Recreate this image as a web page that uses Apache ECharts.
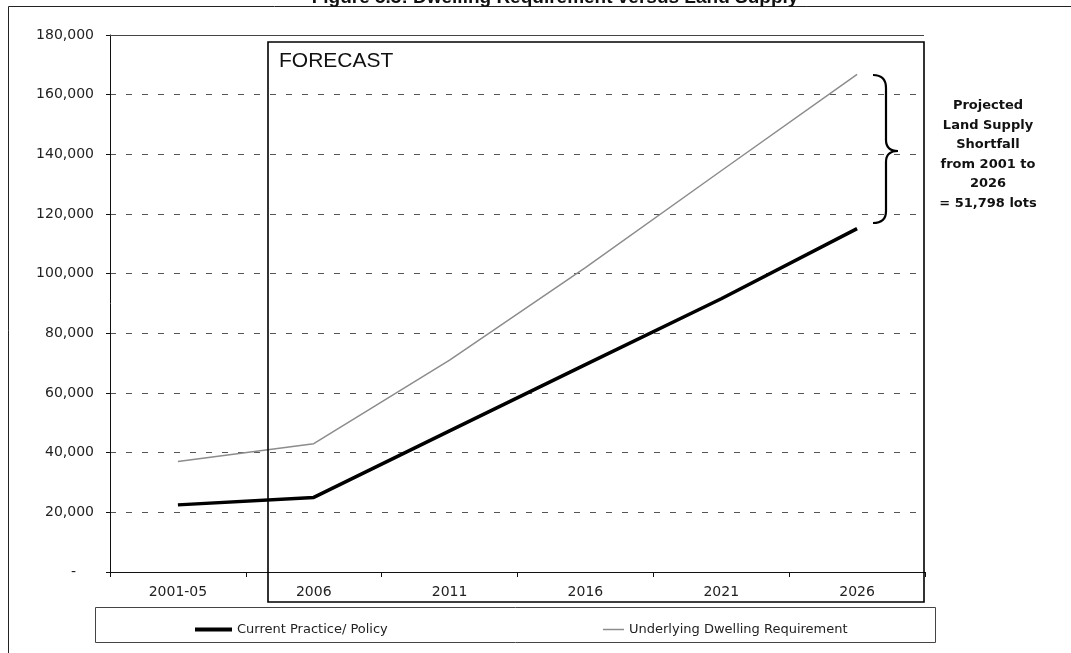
<!DOCTYPE html>
<html><head><meta charset="utf-8">
<script src="https://cdn.jsdelivr.net/npm/echarts@6/dist/echarts.min.js"></script>
<style>html,body{margin:0;padding:0;background:#fff}#c{width:1071px;height:653px}</style>
</head><body><div id="c"></div>
<script>
// ---- data ----
const categories = ['2001-05', '2006', '2011', '2016', '2021', '2026'];
const currentPolicy = [22500, 25000, 47300, 69500, 91600, 115100];
const dwellingRequirement = [37000, 43000, 71000, 102000, 134500, 166800];
const seriesNames = ['Current Practice/ Policy', 'Underlying Dwelling Requirement'];
const yMin = 0, yMax = 180000, yStep = 20000;
const annotationLines = ['Projected', 'Land Supply', 'Shortfall', 'from 2001 to', '2026', '= 51,798 lots'];
const forecastLabel = 'FORECAST';
const titleText = 'Figure 5.3: Dwelling Requirement versus Land Supply';

const chart = echarts.init(document.getElementById('c'), null, {renderer: 'canvas'});
const axisFont = {fontFamily: 'DejaVu Sans', fontSize: 14, color: '#222'};

const braceStyle = {fill: 'none', stroke: '#000', lineWidth: 2.2};
const brace = [
  {type: 'bezierCurve', shape: {x1: 873, y1: 75, cpx1: 886, cpy1: 75, x2: 886, y2: 88}},
  {type: 'line', shape: {x1: 886, y1: 88, x2: 886, y2: 140}},
  {type: 'bezierCurve', shape: {x1: 886, y1: 140, cpx1: 886, cpy1: 151, x2: 898, y2: 151}},
  {type: 'bezierCurve', shape: {x1: 898, y1: 151, cpx1: 886, cpy1: 151, x2: 886, y2: 162}},
  {type: 'line', shape: {x1: 886, y1: 162, x2: 886, y2: 211}},
  {type: 'bezierCurve', shape: {x1: 886, y1: 211, cpx1: 886, cpy1: 223, x2: 873, y2: 223}}
].map(e => Object.assign(e, {style: braceStyle, z: 7}));

const legendText = {fontFamily: 'DejaVu Sans', fontSize: 13, color: '#222'};

chart.setOption({
  animation: false,
  backgroundColor: '#fff',
  grid: {left: 110, right: 146, top: 35, bottom: 81},
  xAxis: {
    type: 'category',
    data: categories,
    boundaryGap: true,
    axisLine: {lineStyle: {color: '#111', width: 1}},
    axisTick: {show: true, length: 5, lineStyle: {color: '#111'}},
    axisLabel: Object.assign({margin: 13}, axisFont),
    splitLine: {show: false}
  },
  yAxis: {
    type: 'value',
    min: yMin, max: yMax, interval: yStep,
    axisLine: {show: true, lineStyle: {color: '#111', width: 1}},
    axisTick: {show: true, length: 4, lineStyle: {color: '#111'}},
    axisLabel: Object.assign({
      margin: 16,
      formatter: v => v === 0 ? '{z|-}' : v.toLocaleString('en-US'),
      rich: {z: {fontFamily: 'DejaVu Sans', fontSize: 14, color: '#222', padding: [0, 18, 0, 0]}}
    }, axisFont),
    splitLine: {show: true, lineStyle: {color: '#555', width: 1, type: [6, 10]}}
  },
  legend: [
    {data: [seriesNames[0]], left: 190, top: 618, icon: 'rect', itemWidth: 37, itemHeight: 4, itemGap: 0,
     textStyle: legendText},
    {data: [seriesNames[1]], left: 598, top: 618, icon: 'rect', itemWidth: 21, itemHeight: 1.5, itemGap: 0,
     textStyle: legendText}
  ],
  series: [
    {name: seriesNames[0], type: 'line', data: currentPolicy, symbol: 'none',
     lineStyle: {color: '#000', width: 3.5}, itemStyle: {color: '#000'}, z: 5},
    {name: seriesNames[1], type: 'line', data: dwellingRequirement, symbol: 'none',
     lineStyle: {color: '#8c8c8c', width: 1.5}, itemStyle: {color: '#8c8c8c'}, z: 4}
  ],
  graphic: [
    {type: 'text', x: 555, y: -12, z: 10,
     style: {text: titleText, font: 'bold 19px "Liberation Sans"', fill: '#111', align: 'center', verticalAlign: 'top'}},
    {type: 'rect', shape: {x: 8.5, y: 6.5, width: 1100, height: 700},
     style: {fill: 'none', stroke: '#222', lineWidth: 1}, z: 1},
    {type: 'line', shape: {x1: 110, y1: 35.5, x2: 924, y2: 35.5},
     style: {stroke: '#444', lineWidth: 1}, z: 3},
    {type: 'rect', shape: {x: 268, y: 42, width: 656, height: 560},
     style: {fill: 'none', stroke: '#000', lineWidth: 1.6}, z: 6},
    {type: 'text', x: 279, y: 51, z: 7,
     style: {text: forecastLabel, font: '21px "Liberation Sans"', fill: '#111'}},
    ...brace,
    {type: 'text', x: 988, y: 96, z: 7,
     style: {text: annotationLines.join('\n'), font: 'bold 13px "DejaVu Sans"', fill: '#111',
             align: 'center', lineHeight: 19.5}},
    {type: 'rect', shape: {x: 95.5, y: 607.5, width: 840, height: 35},
     style: {fill: 'none', stroke: '#444', lineWidth: 1}, z: 3}
  ]
});
</script>
</body></html>
